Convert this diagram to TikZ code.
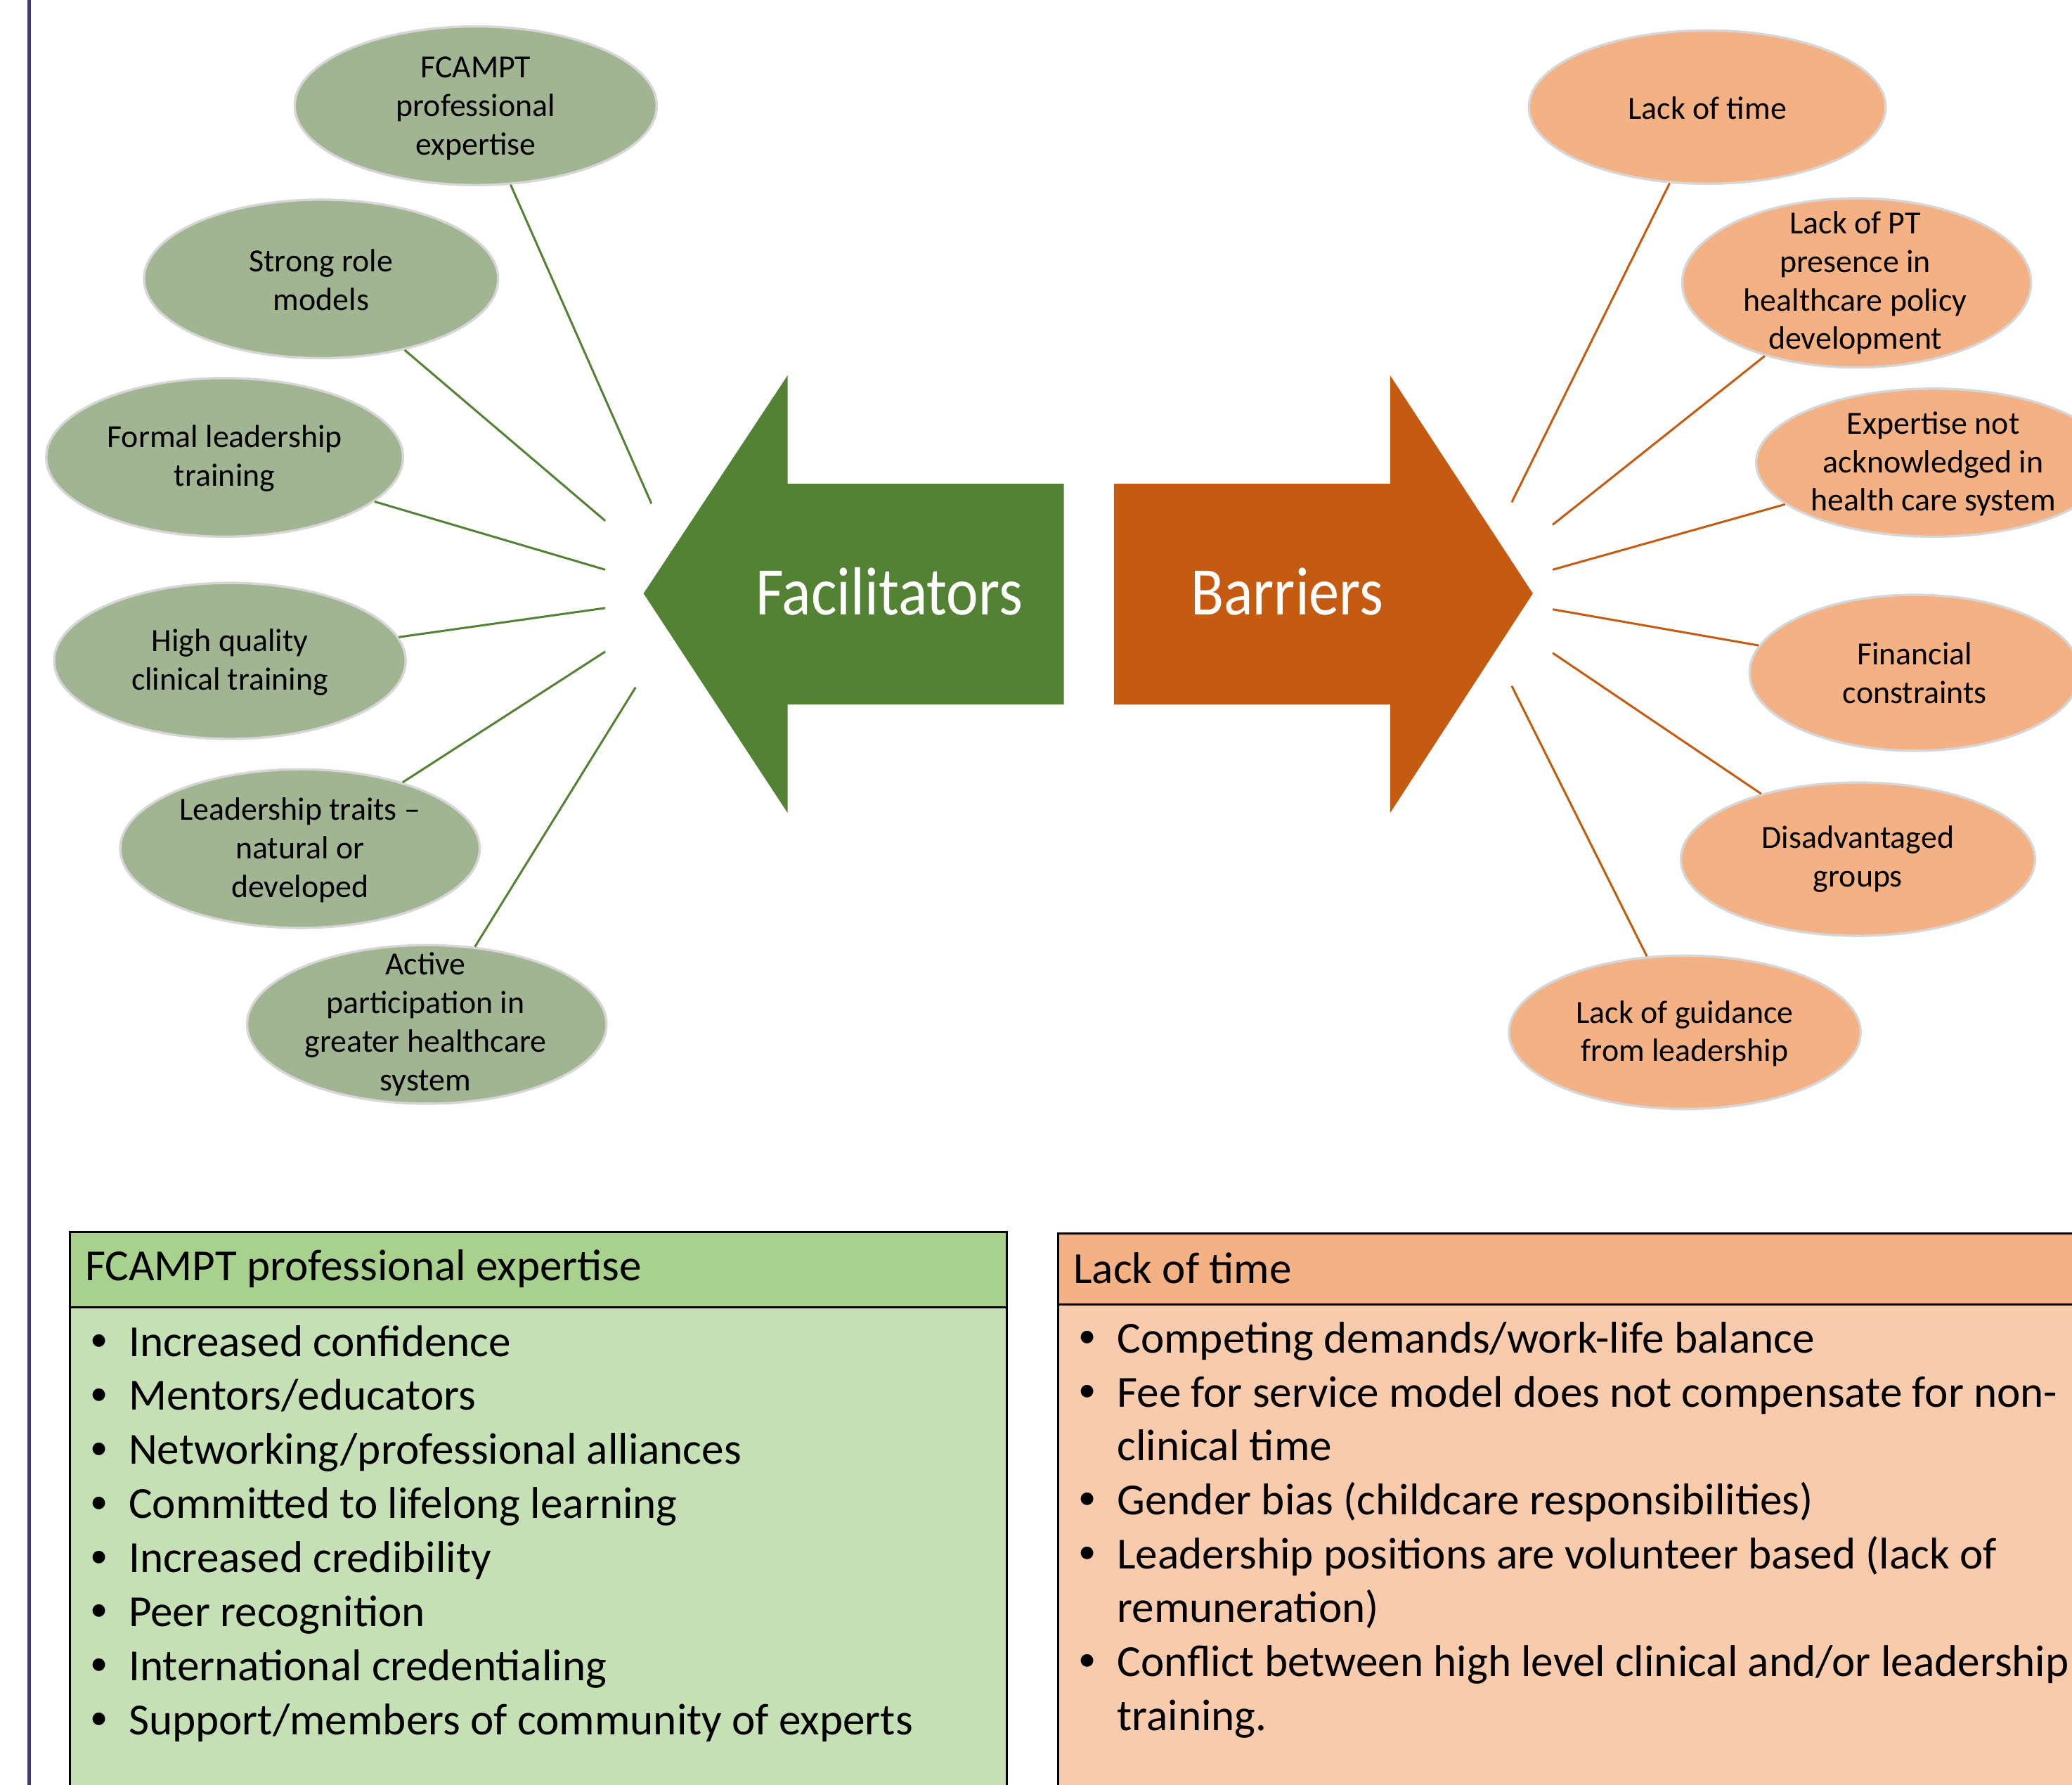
\documentclass[tikz,border=0pt]{standalone}
\usepackage{fontspec}
\setmainfont{Carlito}
\usetikzlibrary{shapes.geometric}
\definecolor{gfill}{HTML}{A2B592}
\definecolor{ofill}{HTML}{F4B183}
\definecolor{garrow}{HTML}{548235}
\definecolor{oarrow}{HTML}{C55A11}
\definecolor{ghead}{HTML}{A9D18E}
\definecolor{gbody}{HTML}{C5E0B4}
\definecolor{ohead}{HTML}{F4B183}
\definecolor{obody}{HTML}{F8CBAD}
\definecolor{vline}{HTML}{3F3A7A}
\newcommand\bul{\makebox[16pt][l]{\hspace{1.5pt}\raisebox{0.12em}{\scalebox{0.8}{•}}}}
\begin{document}
\begin{tikzpicture}[x=0.5pt,y=-0.5pt,
  ell/.style={ellipse, draw=black!16, line width=0.9pt, inner sep=0pt},
  gell/.style={ell, fill=gfill},
  oell/.style={ell, fill=ofill},
  etext/.style={align=center, font=\fontsize{12.2}{14.6}\selectfont, inner sep=0pt},
  gline/.style={draw=garrow, line width=0.8pt},
  oline/.style={draw=oarrow, line width=0.8pt},
  bigtext/.style={text=white, font=\fontsize{23}{27}\selectfont, inner sep=0pt, anchor=base},
  item/.style={font=\fontsize{16.8}{20.4}\selectfont, inner sep=0pt, anchor=base west},
  boxline/.style={draw=black, line width=0.8pt}
]
\useasboundingbox (0,0) rectangle (1568,1350);
\clip (0,0) rectangle (1568,1350);

% left rule
\draw[vline, line width=1.3pt] (22,-5) -- (22,1355);

% arrows
\fill[garrow] (805,366) -- (596,366) -- (596,284) -- (487,449) -- (596,615) -- (596,533) -- (805,533) -- cycle;
\fill[oarrow] (843,366) -- (1052,366) -- (1052,284) -- (1160,449) -- (1052,615) -- (1052,533) -- (843,533) -- cycle;
\node[bigtext] (fac) at (673,465) {\scalebox{1}[1.12]{Facilitators}};
\node[bigtext] (bar) at (974,465) {\scalebox{1}[1.12]{Barriers}};

% green ellipses
\node[gell, minimum width=137pt, minimum height=60pt] (f1) at (360,80) {};
\node[etext] (f1t) at (360,82) {FCAMPT\\professional\\expertise};
\node[gell, minimum width=134pt, minimum height=60pt] (f2) at (243,211) {};
\node[etext] (f2t) at (243,212) {Strong role\\models};
\node[gell, minimum width=135pt, minimum height=60pt] (f3) at (170,346) {};
\node[etext] (f3t) at (170,347) {Formal leadership\\training};
\node[gell, minimum width=133pt, minimum height=59pt] (f4) at (174,500) {};
\node[etext] (f4t) at (174,501) {High quality\\clinical training};
\node[gell, minimum width=136pt, minimum height=60pt] (f5) at (227,642) {};
\node[etext] (f5t) at (227,643) {Leadership traits –\\natural or\\developed};
\node[gell, minimum width=136pt, minimum height=60pt] (f6) at (323,775) {};
\node[etext] (f6t) at (322,775) {Active\\participation in\\greater healthcare\\system};

% orange ellipses
\node[oell, minimum width=135pt, minimum height=58pt] (b1) at (1292,81) {};
\node[etext] (b1t) at (1292,82) {Lack of time};
\node[oell, minimum width=132pt, minimum height=64pt] (b2) at (1405,214) {};
\node[etext] (b2t) at (1404,214) {Lack of PT\\presence in\\healthcare policy\\development};
\node[oell, minimum width=134pt, minimum height=56pt] (b3) at (1463,350) {};
\node[etext] (b3t) at (1463,351) {Expertise not\\acknowledged in\\health care system};
\node[oell, minimum width=125pt, minimum height=59pt] (b4) at (1449,509) {};
\node[etext] (b4t) at (1449,509) {Financial\\constraints};
\node[oell, minimum width=134pt, minimum height=58pt] (b5) at (1406,650) {};
\node[etext] (b5t) at (1406,650) {Disadvantaged\\groups};
\node[oell, minimum width=133pt, minimum height=58pt] (b6) at (1275,781) {};
\node[etext] (b6t) at (1275,782) {Lack of guidance\\from leadership};

% connector start points
\coordinate (c1) at (493,381);
\coordinate (c2) at (458,394);
\coordinate (c3) at (458,431);
\coordinate (c4) at (458,460);
\coordinate (c5) at (458,493);
\coordinate (c6) at (481,520);
\coordinate (d1) at (1144,380);
\coordinate (d2) at (1175,397);
\coordinate (d3) at (1175,431);
\coordinate (d4) at (1175,461);
\coordinate (d5) at (1175,494);
\coordinate (d6) at (1144,519);

\draw[gline] (c1) -- (f1);
\draw[gline] (c2) -- (f2);
\draw[gline] (c3) -- (f3);
\draw[gline] (c4) -- (f4);
\draw[gline] (c5) -- (f5);
\draw[gline] (c6) -- (f6);
\draw[oline] (d1) -- (b1);
\draw[oline] (d2) -- (b2);
\draw[oline] (d3) -- (b3);
\draw[oline] (d4) -- (b4);
\draw[oline] (d5) -- (b5);
\draw[oline] (d6) -- (b6);

% green box
\fill[gbody] (53,989) rectangle (762,1365);
\fill[ghead] (53,932) rectangle (762,989);
\draw[boxline] (53,1365) -- (53,932) -- (762,932) -- (762,1365);
\draw[boxline] (53,989) -- (762,989);
\node[item] (gh) at (64,969) {FCAMPT professional expertise};
\node[item] (g1) at (65,1026) {\bul Increased confidence};
\node[item] (g2) at (65,1066.9) {\bul Mentors/educators};
\node[item] (g3) at (65,1107.8) {\bul Networking/professional alliances};
\node[item] (g4) at (65,1148.7) {\bul Committed to lifelong learning};
\node[item] (g5) at (65,1189.6) {\bul Increased credibility};
\node[item] (g6) at (65,1230.5) {\bul Peer recognition};
\node[item] (g7) at (65,1271.4) {\bul International credentialing};
\node[item] (g8) at (65,1312.3) {\bul Support/members of community of experts};

% orange box
\fill[obody] (801,987) rectangle (1600,1365);
\fill[ohead] (801,933) rectangle (1600,987);
\draw[boxline] (801,1365) -- (801,933) -- (1600,933);
\draw[boxline] (801,987) -- (1600,987);
\node[item] (oh) at (812,971) {Lack of time};
\node[item] (o1) at (813,1023.5) {\bul Competing demands/work-life balance};
\node[item] (o2) at (813,1064.3) {\bul Fee for service model does not compensate for non-};
\node[item] (o3) at (845,1105.1) {clinical time};
\node[item] (o4) at (813,1145.9) {\bul Gender bias (childcare responsibilities)};
\node[item] (o5) at (813,1186.7) {\bul Leadership positions are volunteer based (lack of};
\node[item] (o6) at (845,1227.5) {remuneration)};
\node[item] (o7) at (813,1268.3) {\bul Conflict between high level clinical and/or leadership};
\node[item] (o8) at (845,1309.1) {training.};
\end{tikzpicture}
\end{document}
